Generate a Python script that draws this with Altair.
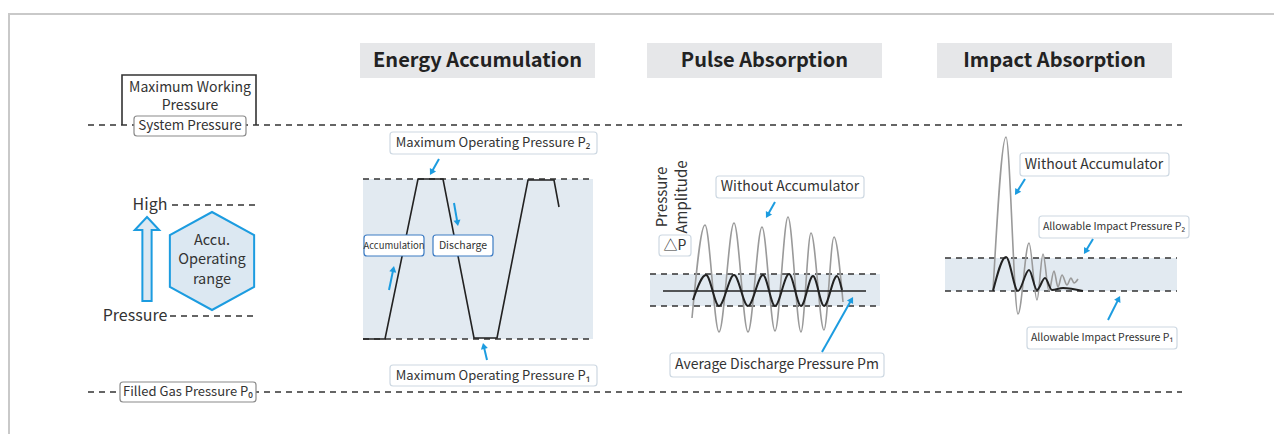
import altair as alt
import pandas as pd
import numpy as np

FONT = "Noto Sans CJK KR, Noto Sans, sans-serif"
NARROW = "Noto Sans CJK KR, Noto Sans, sans-serif"
BLUE = "#1c9ce0"
INK = "#333333"

# ---------------- data (page pixel units of the diagram) ----------------
# frame
frame_x1 = [8, 9]
frame_y1 = [14, 14]
frame_x2 = [1282, 9]
frame_y2 = [14, 442]

# dashed guide lines
dash_x1 = [88, 88, 172, 170, 363, 363, 650, 650, 945, 945]
dash_x2 = [1182, 1182, 258, 258, 593, 593, 880, 880, 1177, 1177]
dash_y = [125, 392, 205, 316, 179, 339, 274, 306, 258, 291]

# shaded operating bands
band_x1 = [363, 650, 945]
band_x2 = [593, 880, 1177]
band_y1 = [179, 274, 258]
band_y2 = [339, 306, 291]

# panel titles
titles = ["Energy Accumulation", "Pulse Absorption", "Impact Absorption"]
title_x1 = [360, 647, 937]
title_x2 = [595, 882, 1172]
title_y1 = [43, 43, 43]
title_y2 = [78, 78, 78]

# label boxes
box_kind = ["gray", "gray", "light", "light", "blue", "blue", "light", "light", "light", "light", "light", "light"]
box_x1 = [134, 120, 390, 390, 364, 433, 659, 716, 670, 1020, 1039, 1027]
box_x2 = [246, 256, 597, 597, 424, 493, 691, 864, 884, 1169, 1189, 1177]
box_y1 = [116, 382, 132, 365, 235, 235, 235, 176, 353, 153, 216, 327]
box_y2 = [136, 402, 154, 386, 256, 256, 256, 198, 377, 176, 238, 349]

# maximum working pressure bracket
bracket_x = [122, 122, 256, 256]
bracket_y = [125, 75, 75, 125]

# energy accumulation waveform
ea_x = [363, 385, 418, 443, 474, 497, 528, 554, 559]
ea_y = [339, 339, 179, 179, 338, 338, 180, 180, 207]

# pulse absorption: without accumulator (gray) / with (black) / mean
pg_x = [692, 705, 719, 734, 748, 762, 775, 788, 801, 811, 824, 834, 843]
pg_y = [318, 225, 332, 223, 332, 227, 331, 217, 332, 233, 330, 237, 302]
pb_x = [693, 706, 719, 734, 748, 763, 775, 789, 801, 813, 824, 837, 842]
pb_y = [300, 275, 306, 275, 306, 275, 306, 274, 306, 276, 306, 276, 290]
mean_x = [663, 866]
mean_y = [291, 291]

# impact absorption: without accumulator (gray) / with (black)
ig_x = [993, 1006, 1018, 1029, 1037, 1043, 1049, 1054, 1058, 1062, 1067, 1071, 1074, 1078]
ig_y = [291, 137, 314, 243, 300, 254, 291, 271, 287, 275, 285, 278, 283, 279]
ib_x = [993, 1006, 1018, 1029, 1037, 1045, 1052, 1063, 1083]
ib_y = [291, 257, 291, 270, 290, 278, 290, 288, 291]

# blue pointer arrows (start -> tip)
arr_x1 = [439, 454, 389, 487, 775, 822, 1025, 1093, 1108]
arr_y1 = [159, 203, 290, 360, 202, 352, 179, 239, 320]
arr_x2 = [430, 458, 394, 483, 766, 853, 1015, 1084, 1120]
arr_y2 = [175, 226, 266, 343, 218, 297, 195, 254, 296]

# symbols: hollow pressure arrow and hexagon
sym_x = [147, 212]
sym_y = [259, 261]

# texts
reg_text = ["Maximum Working", "Pressure", "System Pressure", "Filled Gas Pressure P₀",
            "Maximum Operating Pressure P₂", "Maximum Operating Pressure P₁"]
reg_x = [190, 190, 190, 188, 493, 493]
reg_y = [88, 106, 126, 392, 143, 376]
reg_size = [14, 14, 13.5, 13, 13, 13]

mid_text = ["High", "Pressure", "Accu.", "Operating", "range",
            "Without Accumulator", "△P", "Average Discharge Pressure Pm", "Without Accumulator"]
mid_x = [150, 135, 212, 212, 212, 790, 675, 777, 1094]
mid_y = [205, 316, 241, 260, 280, 187, 246, 365, 165]
mid_size = [16, 16, 14.5, 14.5, 14.5, 14, 14, 14, 14]

nar_text = ["Accumulation", "Discharge", "Allowable Impact Pressure P₂", "Allowable Impact Pressure P₁"]
nar_x = [394, 463, 1114, 1102]
nar_y = [246, 246, 227, 338]
nar_size = [9.5, 10.5, 10.5, 10.5]

rot_text = ["Pressure", "Amplitude"]
rot_x = [662, 682]
rot_y = [197, 197]

# ---------------- helpers ----------------
XS = alt.Scale(domain=[8, 1274], nice=False, zero=False)
YS = alt.Scale(domain=[434, 8], nice=False, zero=False)


def X(f="x"):
    return alt.X(f"{f}:Q", scale=XS, axis=None)


def Y(f="y"):
    return alt.Y(f"{f}:Q", scale=YS, axis=None)


def rects(x1, x2, y1, y2, **mk):
    df = pd.DataFrame({"x": x1, "x2": x2, "y": y1, "y2": y2})
    return alt.Chart(df).mark_rect(**mk).encode(x=X(), x2="x2:Q", y=Y(), y2="y2:Q")


def poly(xs, ys, **mk):
    df = pd.DataFrame({"x": xs, "y": ys, "o": list(range(len(xs)))})
    return alt.Chart(df).mark_line(**mk).encode(x=X(), y=Y(), order="o:Q")


def texts(t, xs, ys, size, **mk):
    df = pd.DataFrame({"x": xs, "y": ys, "t": t, "s": size})
    return alt.Chart(df).mark_text(baseline="middle", align="center", **mk).encode(
        x=X(), y=Y(), text="t:N", size=alt.Size("s:Q", scale=None))


layers = []

# frame
layers.append(alt.Chart(pd.DataFrame({"x": frame_x1, "y": frame_y1, "x2": frame_x2, "y2": frame_y2}))
              .mark_rule(color="#c9c9c9", strokeWidth=2)
              .encode(x=X(), y=Y(), x2="x2:Q", y2="y2:Q"))

# bands and titles backgrounds
layers.append(rects(band_x1, band_x2, band_y1, band_y2, color="#e2eaf1"))
layers.append(rects(title_x1, title_x2, title_y1, title_y2, color="#e6e7e9"))

# dashed lines
layers.append(alt.Chart(pd.DataFrame({"x": dash_x1, "x2": dash_x2, "y": dash_y}))
              .mark_rule(color=INK, strokeWidth=1.3, strokeDash=[6, 5])
              .encode(x=X(), x2="x2:Q", y=Y()))

# bracket
layers.append(poly(bracket_x, bracket_y, color=INK, strokeWidth=1.6))

# symbols
arrow_path = ("M0,-1 L0.29,-0.69 L0.11,-0.69 L0.11,1 L-0.11,1 L-0.11,-0.69 L-0.29,-0.69 Z")
hex_path = "M0,-1 L0.86,-0.53 L0.86,0.53 L0,1 L-0.86,0.53 L-0.86,-0.53 Z"
sym_df = pd.DataFrame({"x": sym_x, "y": sym_y})
layers.append(alt.Chart(sym_df.iloc[[0]]).mark_point(
    shape=arrow_path, size=84 * 84, filled=True, fill="#dce8f2", stroke=BLUE, strokeWidth=2,
    opacity=1).encode(x=X(), y=Y()))
layers.append(alt.Chart(sym_df.iloc[[1]]).mark_point(
    shape=hex_path, size=98 * 98, filled=True, fill="#dce8f2", stroke=BLUE, strokeWidth=2,
    opacity=1).encode(x=X(), y=Y()))

# waveforms
layers.append(poly(ea_x, ea_y, color="#222222", strokeWidth=1.6))
layers.append(poly(pg_x, pg_y, color="#9a9a9a", strokeWidth=1.6, interpolate="monotone"))
layers.append(poly(pb_x, pb_y, color="#222222", strokeWidth=2, interpolate="monotone"))
layers.append(poly(mean_x, mean_y, color="#222222", strokeWidth=1.4))
layers.append(poly(ig_x, ig_y, color="#9a9a9a", strokeWidth=1.6, interpolate="monotone"))
layers.append(poly(ib_x, ib_y, color="#222222", strokeWidth=2, interpolate="monotone"))

# label boxes
box_df = pd.DataFrame({"x": box_x1, "x2": box_x2, "y": box_y1, "y2": box_y2, "k": box_kind})
box_colors = {"gray": "#8a8a8a", "light": "#cdd8e2", "blue": "#3d7cc4"}
for k, c in box_colors.items():
    layers.append(alt.Chart(box_df[box_df.k == k]).mark_rect(
        fill="white", stroke=c, strokeWidth=1.2, cornerRadius=3).encode(
        x=X(), x2="x2:Q", y=Y(), y2="y2:Q"))

# arrows
ax1, ay1 = np.array(arr_x1, float), np.array(arr_y1, float)
ax2, ay2 = np.array(arr_x2, float), np.array(arr_y2, float)
L = np.hypot(ax2 - ax1, ay2 - ay1)
ux, uy = (ax2 - ax1) / L, (ay2 - ay1) / L
hx, hy = ax2 - ux * 4, ay2 - uy * 4
ang = (np.degrees(np.arctan2(ux, -uy)) + 360) % 360
layers.append(alt.Chart(pd.DataFrame({"x": ax1, "y": ay1, "x2": hx, "y2": hy}))
              .mark_rule(color=BLUE, strokeWidth=2)
              .encode(x=X(), y=Y(), x2="x2:Q", y2="y2:Q"))
layers.append(alt.Chart(pd.DataFrame({"x": hx, "y": hy, "a": ang}))
              .mark_point(shape="triangle", filled=True, color=BLUE, size=50, opacity=1)
              .encode(x=X(), y=Y(), angle=alt.Angle("a:Q", scale=None)))

# texts
layers.append(texts(reg_text, reg_x, reg_y, reg_size, font=FONT, color=INK))
layers.append(texts(mid_text, mid_x, mid_y, mid_size, font=FONT, color=INK))
layers.append(texts(nar_text, nar_x, nar_y, nar_size, font=NARROW, color=INK))
layers.append(texts(rot_text, rot_x, rot_y, [15, 15], font=FONT, color=INK, angle=270))
layers.append(texts(titles, [(a + b) / 2 for a, b in zip(title_x1, title_x2)], [61, 61, 61],
                    [20, 20, 20], font=FONT, color="#222222", fontWeight="bold"))

chart = alt.layer(*layers).properties(
    width=1266, height=426, padding=0, autosize="none", background="white"
).configure_view(strokeWidth=0)

chart.save("out.html", embed_options={"renderer": "svg", "actions": False})
